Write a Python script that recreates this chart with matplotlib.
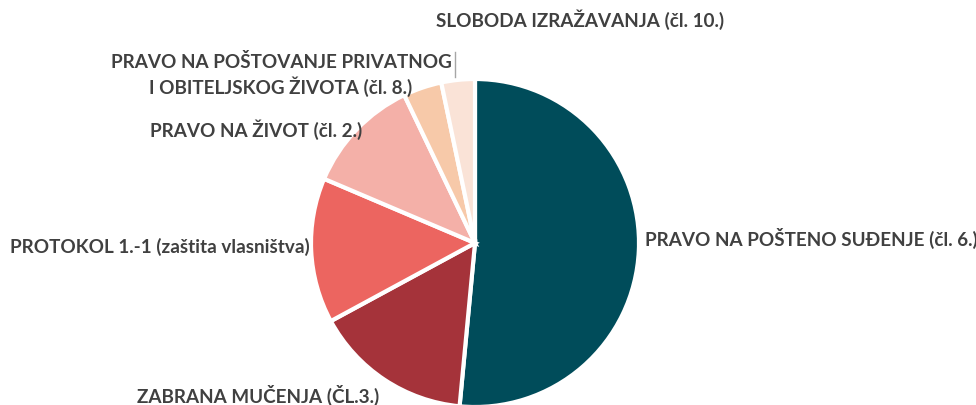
import matplotlib
matplotlib.use('Agg')
import matplotlib.pyplot as plt

# share of cases per convention article
labels = ['PRAVO NA POŠTENO SUĐENJE (čl. 6.)',
          'ZABRANA MUČENJA (ČL.3.)',
          'PROTOKOL 1.-1 (zaštita vlasništva)',
          'PRAVO NA ŽIVOT (čl. 2.)',
          'PRAVO NA POŠTOVANJE PRIVATNOG\nI OBITELJSKOG ŽIVOTA (čl. 8.)',
          'SLOBODA IZRAŽAVANJA (čl. 10.)']
shares = [51.5, 15.6, 14.3, 11.5, 3.8, 3.3]
colors = ['#004C5A', '#A5333A', '#EC6560', '#F4B0A8', '#F7C9A9', '#FAE3D7']

W, H = 976, 405
fig = plt.figure(figsize=(W / 100, H / 100), dpi=100)

# pie centre and radius in pixels
cx, cy, r = 475, 243, 164
ax = fig.add_axes([(cx - r) / W, (H - cy - r) / H, 2 * r / W, 2 * r / H])
ax.pie(shares, colors=colors, startangle=90, counterclock=False,
       wedgeprops=dict(edgecolor='white', linewidth=3))
ax.set_xlim(-1, 1)
ax.set_ylim(-1, 1)
ax.set_aspect('equal')
ax.axis('off')

txt = dict(fontsize=13.6, fontweight='bold', color='#404040', family='Lato')

def put(x, y, s, ha='left'):
    fig.text(x / W, 1 - y / H, s, ha=ha, va='center', linespacing=1.35, **txt)

put(645, 238, labels[0])
put(258, 395, labels[1], ha='center')
put(160, 247, labels[2], ha='center')
put(256, 130, labels[3], ha='center')
put(281, 75, labels[4], ha='center')
put(580, 20, labels[5], ha='center')

# leader line for the smallest slice
fig.add_artist(plt.Line2D([455 / W, 455 / W], [1 - 52 / H, 1 - 77 / H],
                          color='#A6A6A6', lw=1))

fig.savefig('out.png', dpi=100)
